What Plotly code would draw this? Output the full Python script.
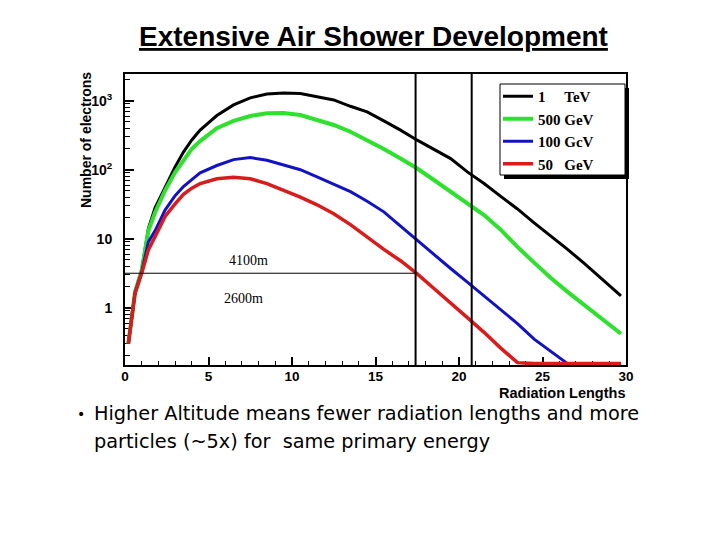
import math
import plotly.graph_objects as go

# ---------------- data ----------------
radiation_lengths = [0.2, 0.4, 0.6, 1.0, 1.4, 1.8, 2.4, 3.0, 3.5, 4.0, 4.5, 5.5, 6.5, 7.5,
                     8.5, 9.5, 10.5, 11.5, 12.5, 13.5, 14.5, 15.5, 16.5, 17.5, 18.5, 19.5,
                     20.5, 21.5, 22.5, 23.5, 24.5, 25.5, 26.5, 27.5, 28.5, 29.7]

electrons_1tev = [0.30, 0.78, 1.7, 3.5, 14, 28, 57, 110, 180, 270, 376, 610, 870, 1100,
                  1250, 1290, 1270, 1150, 1025, 830, 690, 510, 375, 268, 195, 145,
                  93, 63, 41, 27, 17, 11, 7.0, 4.4, 2.7, 1.48]
electrons_500gev = [0.30, 0.78, 1.7, 3.5, 13, 24, 50, 92, 135, 200, 260, 400, 510, 600,
                    660, 665, 621, 525, 445, 355, 270, 200, 145, 104, 71, 48,
                    33, 22, 13.5, 7.6, 4.5, 2.7, 1.7, 1.1, 0.71, 0.42]
electrons_100gev = [0.30, 0.76, 1.65, 3.3, 9, 13, 26, 42, 57, 72, 90, 115, 140, 150,
                    137, 117, 100, 79, 62, 48, 35, 24.5, 15.2, 9.4, 5.9, 3.7,
                    2.35, 1.48, 0.93, 0.59, 0.35, 0.23, 0.155, 0.155, 0.155, 0.155]
electrons_50gev = [0.30, 0.74, 1.6, 3.15, 6.9, 10.7, 21, 32, 44, 54, 63, 74, 78, 74,
                   63, 50, 40, 31, 23, 16, 10.5, 7.0, 4.8, 3.1, 1.9, 1.15,
                   0.72, 0.44, 0.26, 0.16, 0.155, 0.155, 0.155, 0.155, 0.155, 0.155]

series_names = ["1\u00a0\u00a0\u00a0\u00a0\u00a0TeV", "500 GeV", "100 GcV", "50\u00a0\u00a0\u00a0GeV"]
series_colors = ["#000000", "#2fe02f", "#1212c4", "#d81c1c"]
series_widths = [3, 4, 3, 3.5]

altitude_lines_x = [17.4, 20.76]
threshold_y = 3.16
threshold_x_end = 17.4
altitude_labels = ["4100m", "2600m"]
altitude_label_x = [7.4, 7.1]
altitude_label_y = [4.9, 1.38]

x_tickvals = [0, 5, 10, 15, 20, 25, 30]
y_tickvals = [1, 10, 100, 1000]
y_ticktext = ["1", "10", "10<sup>2</sup>", "10<sup>3</sup>"]
y_minor_tickvals = [m * d for d in (0.1, 1, 10, 100) for m in range(2, 10)] + [2000]

title_text = "Extensive Air Shower Development"
bullet_lines = ["Higher Altitude means fewer radiation lengths and more",
                "particles (~5x) for \u00a0same primary energy"]

# ---------------- layout geometry (window pixels) ----------------
OFF = 8                       # page body margin
W, H = 712, 532
L, R, T, B = 125, 626, 74, 365  # plot area in window pixels


def px(xp):
    return (xp - L) / (R - L)


def py(yp):
    return (B - yp) / (B - T)


fig = go.Figure()
all_series = [electrons_1tev, electrons_500gev, electrons_100gev, electrons_50gev]
for name, vals, col, w in zip(series_names, all_series, series_colors, series_widths):
    fig.add_trace(go.Scatter(x=radiation_lengths, y=vals, mode="lines", name=name,
                             line=dict(color=col, width=w)))

shapes = []
for xv in altitude_lines_x:
    shapes.append(dict(type="line", xref="x", yref="paper", x0=xv, x1=xv, y0=0, y1=1,
                       line=dict(color="black", width=2), layer="above"))
shapes.append(dict(type="line", xref="x", yref="y", x0=0, x1=threshold_x_end,
                   y0=threshold_y, y1=threshold_y, line=dict(color="black", width=1),
                   layer="above"))
# legend frame with drop shadow
shapes.append(dict(type="rect", xref="paper", yref="paper",
                   x0=px(504), x1=px(629), y0=py(179), y1=py(88),
                   fillcolor="black", line=dict(width=0), layer="above"))
shapes.append(dict(type="rect", xref="paper", yref="paper",
                   x0=px(500), x1=px(625), y0=py(175), y1=py(84),
                   fillcolor="white", line=dict(color="black", width=1), layer="above"))

annotations = []
for t, xv, yv in zip(altitude_labels, altitude_label_x, altitude_label_y):
    annotations.append(dict(text=t, x=xv, y=math.log10(yv), xref="x", yref="y",
                            showarrow=False, xanchor="center", yanchor="middle",
                            font=dict(family="Liberation Serif", size=14, color="black")))

annotations.append(dict(text="<b><u>" + title_text + "</u></b>", x=px(373), y=py(36),
                        xref="paper", yref="paper", showarrow=False,
                        xanchor="center", yanchor="middle",
                        font=dict(family="Liberation Sans", size=28, color="black")))
annotations.append(dict(text="<b>Number of electrons</b>", x=px(86), y=py(140),
                        xref="paper", yref="paper", showarrow=False, textangle=-90,
                        xanchor="center", yanchor="middle",
                        font=dict(family="Liberation Sans", size=14, color="black")))
annotations.append(dict(text="<b>Radiation Lengths</b>", x=px(627), y=py(393),
                        xref="paper", yref="paper", showarrow=False,
                        xanchor="right", yanchor="middle",
                        font=dict(family="Liberation Sans", size=14.5, color="black")))
annotations.append(dict(text="•", x=px(75), y=py(414), xref="paper", yref="paper",
                        showarrow=False, xanchor="left", yanchor="middle",
                        font=dict(family="DejaVu Sans", size=14, color="black")))
for i, line in enumerate(bullet_lines):
    annotations.append(dict(text=line, x=px(92), y=py(413 + 28 * i), xref="paper",
                            yref="paper", showarrow=False,
                            xanchor="left", yanchor="middle",
                            font=dict(family="DejaVu Sans", size=19.3, color="black")))

fig.update_layout(
    width=W, height=H,
    margin=dict(l=L - OFF, r=W - (R - OFF), t=T - OFF, b=H - (B - OFF), pad=0,
                autoexpand=False),
    paper_bgcolor="white", plot_bgcolor="white",
    showlegend=True,
    legend=dict(x=px(498), y=py(80), xanchor="left", yanchor="top",
                bgcolor="rgba(0,0,0,0)", borderwidth=0,
                font=dict(family="Liberation Serif", size=15, color="black",
                          weight="bold"),
                itemwidth=30, tracegroupgap=0),
    shapes=shapes,
    annotations=annotations,
)

fig.update_xaxes(range=[0, 30], tickvals=x_tickvals, ticks="inside", ticklen=8,
                 tickwidth=1.5, tickcolor="black", showline=True, linecolor="black",
                 linewidth=2, mirror=True, showgrid=False, zeroline=False,
                 ticklabelstandoff=-2,
                 tickfont=dict(family="Liberation Sans", size=13.5, color="black",
                               weight="bold"),
                 minor=dict(dtick=1, ticks="inside", ticklen=4, tickcolor="black",
                            tickwidth=1, showgrid=False),
                 layer="below traces")
fig.update_yaxes(type="log", range=[-0.83, 3.387], tickvals=y_tickvals,
                 ticktext=y_ticktext, ticks="inside", ticklen=9, tickwidth=1.5,
                 tickcolor="black", showline=True, linecolor="black", linewidth=2,
                 mirror=True, showgrid=False, zeroline=False, ticklabelstandoff=8,
                 tickfont=dict(family="Liberation Sans", size=14, color="black",
                               weight="bold"),
                 minor=dict(tickvals=y_minor_tickvals, ticks="inside", ticklen=5,
                            tickcolor="black", tickwidth=1, showgrid=False),
                 layer="below traces")

fig.write_html("out.html")
